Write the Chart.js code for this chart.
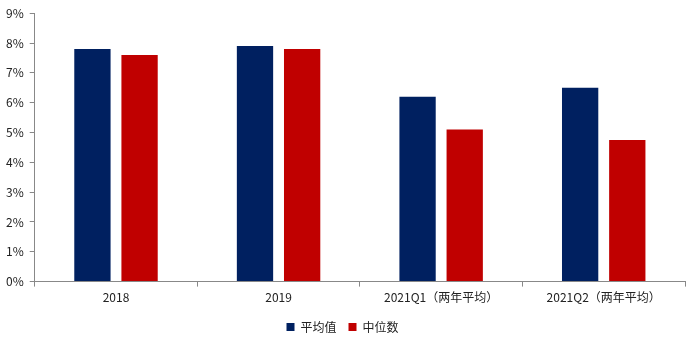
<!DOCTYPE html>
<html lang="zh">
<head>
<meta charset="utf-8" />
<title>chart</title>
<script src="https://cdn.jsdelivr.net/npm/chart.js"></script>
<style>
  html, body { margin: 0; padding: 0; background: #fff; }
  #wrap { width: 693px; height: 345px; }
</style>
</head>
<body>
<div id="wrap"><canvas id="c"></canvas></div>
<script>
const categories = ["2018", "2019", "2021Q1（两年平均）", "2021Q2（两年平均）"];
const seriesNames = ["平均值", "中位数"];
const meanValues = [7.8, 7.9, 6.2, 6.5];
const medianValues = [7.6, 7.8, 5.1, 4.75];

const font = { family: "'Noto Sans CJK SC', 'Liberation Sans', sans-serif", size: 12 };

new Chart(document.getElementById("c"), {
    type: "bar",
    data: {
        labels: categories,
        datasets: [
            { label: seriesNames[0], data: meanValues, backgroundColor: "#002060" },
            { label: seriesNames[1], data: medianValues, backgroundColor: "#C00000" }
        ]
    },
    options: {
        responsive: true,
        maintainAspectRatio: false,
        animation: false,
        layout: { padding: { top: 1, right: 8, left: 0, bottom: 2 } },
        datasets: { bar: { categoryPercentage: 0.58, barPercentage: 0.77 } },
        plugins: {
            legend: {
                position: "bottom",
                labels: { boxWidth: 8, boxHeight: 8, color: "#222", font: font, padding: 12 }
            },
            tooltip: { enabled: false }
        },
        scales: {
            x: {
                grid: { display: true, offset: true, drawOnChartArea: false, tickLength: 5, color: "#888" },
                border: { color: "#888" },
                ticks: { color: "#222", font: font, maxRotation: 0, padding: 4 }
            },
            y: {
                min: 0, max: 9,
                grid: { drawOnChartArea: false, tickLength: 5, color: "#888" },
                border: { color: "#888" },
                ticks: { stepSize: 1, color: "#222", font: font, padding: 6, callback: v => v + "%" }
            }
        }
    }
});
</script>
</body>
</html>
